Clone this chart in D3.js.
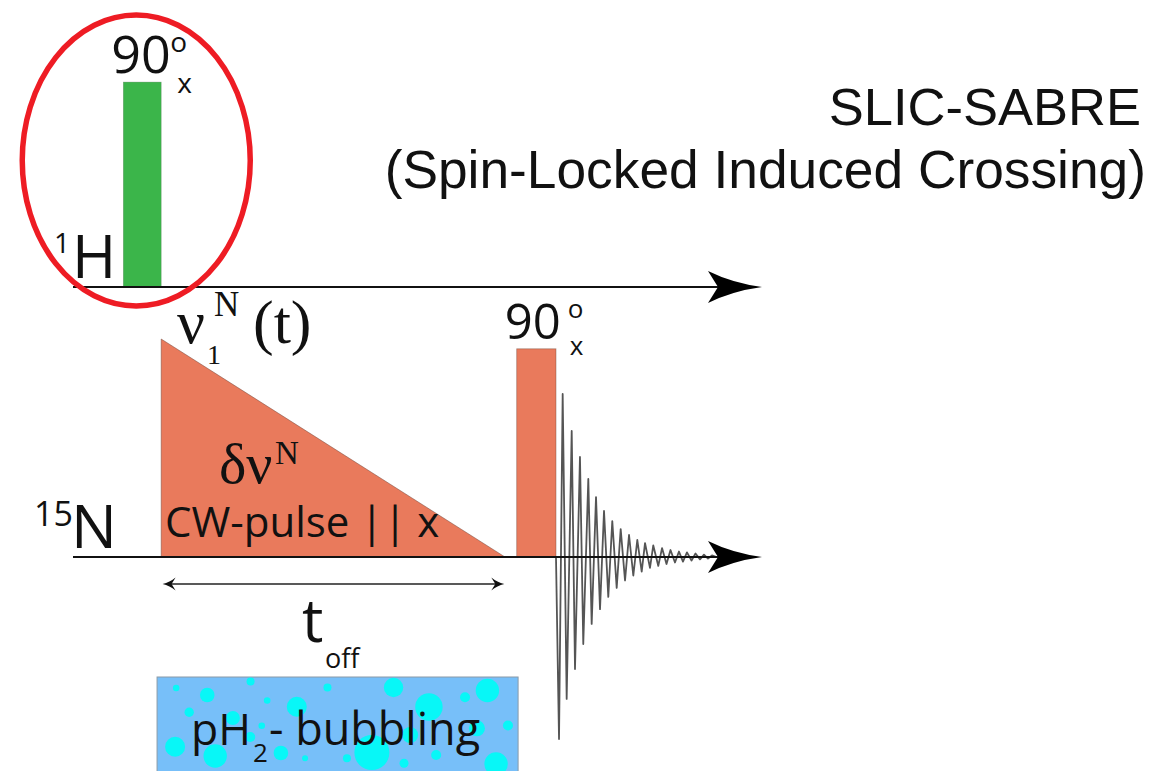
<!DOCTYPE html>
<html><head><meta charset="utf-8">
<script src="https://cdn.jsdelivr.net/npm/d3@7"></script>
<style>body{margin:0;background:#fff}svg{display:block}</style>
</head><body><svg id="c" width="1153" height="771"></svg>
<script>
// ---------- data ----------
const channels = ["1H", "15N"];
const timeDomain = [0, 100];               // time, arbitrary units
const hPulse = { start: 7.3, end: 12.8, amp: 0.94 };      // 1H 90x pulse
const nRamp  = { start: 12.8, end: 62.7, ampStart: 1.0, ampEnd: 0.0 }; // CW ramp
const nPulse = { start: 64.4, end: 70.1, amp: 0.955 };    // 15N 90x pulse
const tOff   = { start: 13.0, end: 62.6 };
const bubbling = { start: 12.2, end: 64.6 };
const fidStart = 70.1, fidEnd = 93.4;
const fidTime = [70.54, 71.07, 71.65, 72.38, 72.86, 73.58, 74.06, 74.79, 75.28, 75.91,
  76.49, 77.07, 77.69, 78.27, 78.91, 79.49, 80.12, 80.70, 81.32, 81.90, 82.54, 83.02,
  83.74, 84.22, 84.95, 85.49, 86.14, 86.72, 87.37, 87.95, 88.53, 89.11, 89.77, 90.35,
  91.00, 91.58, 92.16, 92.74];
const fidAmp = [-0.835, 0.748, -0.651, 0.578, -0.514, 0.459, -0.399, 0.358, -0.307, 0.275,
  -0.239, 0.211, -0.183, 0.165, -0.142, 0.128, -0.108, 0.101, -0.085, 0.078, -0.067, 0.064,
  -0.050, 0.053, -0.041, 0.041, -0.032, 0.032, -0.025, 0.025, -0.021, 0.021, -0.016, 0.016,
  -0.011, 0.011, -0.007, 0.007];
// bubbles inside the pH2 box (percent of box width / height, radius in % of width)
const bubbleX = [5.3, 13.9, 25.9, 30.5, 8.9, 47.2, 38.7, 65.5, 75.3, 91.5, 85.3, 97.2, 5.0,
  16.1, 34.3, 41.0, 59.5, 68.4, 77.3, 93.9, 29.0, 52.6, 21.0, 70.1, 88.6, 25.8];
const bubbleY = [11, 18, 4.5, 23.5, 35.3, 10.5, 29.7, 10.5, 30, 13.5, 20.3, 48.5, 69.7,
  79, 76, 81.3, 75.5, 86.3, 78, 87, 48.7, 81.3, 41, 58, 51.3, 60];
const bubbleR = [0.91, 2.02, 1.11, 0.91, 1.3, 1.11, 2.77, 2.69, 3.8, 3.24, 1.39, 1.39, 2.77,
  3.24, 2.02, 0.83, 4.85, 1.25, 1.39, 3.24, 0.91, 1.11, 1.94, 2.22, 2.22, 1.39];
const titleLines = ["SLIC-SABRE", "(Spin-Locked Induced Crossing)"];

// ---------- scales ----------
const svg = d3.select("#c");
const x = d3.scaleLinear().domain(timeDomain).range([73, 762]);
const yCh = d3.scalePoint().domain(channels).range([287, 557]);
const amp = d3.scaleLinear().domain([0, 1]).range([0, 218]);
const bx = d3.scaleLinear().domain([0, 100]).range([x(bubbling.start), x(bubbling.end)]);
const by = d3.scaleLinear().domain([0, 100]).range([677, 777]);

const SANS = "'Open Sans', 'Noto Sans', sans-serif";
const SERIF = "'Liberation Serif', 'DejaVu Serif', serif";
const HELV = "'Liberation Sans', Arial, sans-serif";
const ORANGE = "#e97a5c", GREEN = "#3bb54a";

// one text element made of parts: [string, x, y, size]
function label(parts, fam, anchor) {
  const t = svg.append("text").attr("font-family", fam).attr("fill", "#111")
    .attr("text-anchor", anchor || "start");
  parts.forEach(p => t.append("tspan").attr("x", p[1]).attr("y", p[2]).attr("font-size", p[3]).text(p[0]));
  return t;
}

// ---------- bubbling box ----------
const clip = svg.append("clipPath").attr("id", "bclip");
clip.append("rect").attr("x", bx(0)).attr("y", by(0)).attr("width", bx(100) - bx(0)).attr("height", 120);
svg.append("rect").attr("x", bx(0)).attr("y", by(0)).attr("width", bx(100) - bx(0)).attr("height", 120)
  .attr("fill", "#77bff9").attr("stroke", "#8a9aa8").attr("stroke-width", 1);
svg.append("g").attr("clip-path", "url(#bclip)").selectAll("circle")
  .data(bubbleX.map((v, i) => ({ x: v, y: bubbleY[i], r: bubbleR[i] })))
  .join("circle").attr("cx", d => bx(d.x)).attr("cy", d => by(d.y))
  .attr("r", d => bx(d.r) - bx(0)).attr("fill", "#08f7f7");
label([["pH", 191, 745, 44.5], ["2", 253, 762, 26], ["- bubbling", 269, 745, 45]], SANS);

// ---------- pulses ----------
const yH = yCh("1H"), yN = yCh("15N");
svg.append("rect").attr("x", x(hPulse.start)).attr("width", x(hPulse.end) - x(hPulse.start))
  .attr("y", yH - amp(hPulse.amp)).attr("height", amp(hPulse.amp)).attr("fill", GREEN)
  .attr("stroke", "#5a7a5a").attr("stroke-width", 0.6).attr("stroke-opacity", 0.5);

const rampPts = [[nRamp.start, 0], [nRamp.start, nRamp.ampStart], [nRamp.end, nRamp.ampEnd]];
svg.append("path").attr("d", "M" + rampPts.map(p => [x(p[0]), yN - amp(p[1])].join(",")).join("L") + "Z")
  .attr("fill", ORANGE).attr("stroke", "#6b4438").attr("stroke-width", 0.8).attr("stroke-opacity", 0.6);
svg.append("rect").attr("x", x(nPulse.start)).attr("width", x(nPulse.end) - x(nPulse.start))
  .attr("y", yN - amp(nPulse.amp)).attr("height", amp(nPulse.amp)).attr("fill", ORANGE)
  .attr("stroke", "#6b4438").attr("stroke-width", 0.8).attr("stroke-opacity", 0.5);

// ---------- FID ----------
const fidPts = [[fidStart, 0]].concat(fidTime.map((t, i) => [t, fidAmp[i]])).concat([[fidEnd, 0]]);
svg.append("path").attr("d", d3.line().x(d => x(d[0])).y(d => yN - amp(d[1]))(fidPts))
  .attr("fill", "none").attr("stroke", "#2a2a2a").attr("stroke-width", 1.8)
  .attr("stroke-linejoin", "round").attr("stroke-opacity", 0.8);

// ---------- channel axes ----------
function arrowHead(X, Y, L, W, N) {
  return `M${X},${Y} Q${X - L * 0.55},${Y - W * 0.25} ${X - L},${Y - W} L${X - N},${Y} L${X - L},${Y + W} Q${X - L * 0.55},${Y + W * 0.25} ${X},${Y} Z`;
}
channels.forEach(ch => {
  const yy = yCh(ch);
  svg.append("line").attr("x1", x(timeDomain[0])).attr("x2", x(timeDomain[1]) - 20)
    .attr("y1", yy).attr("y2", yy).attr("stroke", "#111").attr("stroke-width", 2.2);
  svg.append("path").attr("d", arrowHead(x(timeDomain[1]), yy, 54, 16, 44)).attr("fill", "#000");
});

// ---------- t_off double arrow ----------
const ya = 584;
svg.append("line").attr("x1", x(tOff.start) + 6).attr("x2", x(tOff.end) - 6).attr("y1", ya).attr("y2", ya)
  .attr("stroke", "#222").attr("stroke-width", 1.6);
svg.append("path").attr("d", arrowHead(x(tOff.end), ya, 13, 6.5, 9)).attr("fill", "#111");
svg.append("path").attr("d", arrowHead(x(tOff.start), ya, -13, 6.5, -9)).attr("fill", "#111");
label([["t", 302, 642, 60], ["off", 325, 668, 27]], SANS);

// ---------- labels ----------
const hx = x(hPulse.start), nx = x(nPulse.start);
label([["1", 54, 253, 28], ["H", 72, 278, 60]], SANS);
label([["90", hx - 12, 73, 52], ["o", hx + 47, 52, 28], ["x", hx + 54, 93, 28]], SANS);
label([["15", 34, 526, 34], ["N", 71, 548, 61]], SANS);
label([["90", nx - 12, 339, 49], ["o", nx + 51, 318, 26], ["x", nx + 53, 355, 26]], SANS);
label([["\u03BD", 177, 343, 62], ["1", 207, 364, 28], ["N", 214, 316, 35], ["(t)", 253, 343, 62]], SERIF);
label([["\u03B4\u03BD", 219, 483, 58], ["N", 275, 464, 33]], SERIF);
label([["CW-pulse || x", 165, 537, 42]], SANS);

// ---------- red ellipse highlight ----------
svg.append("ellipse").attr("cx", (x(hPulse.start) + x(hPulse.end)) / 2 - 6).attr("cy", 160.5)
  .attr("rx", 114).attr("ry", 145.5).attr("fill", "none").attr("stroke", "#ee1c24").attr("stroke-width", 5.5);

// ---------- title ----------
label([[titleLines[0], 1141, 125, 52.5], [titleLines[1], 1146, 188, 53.3]], HELV, "end");
</script></body></html>
